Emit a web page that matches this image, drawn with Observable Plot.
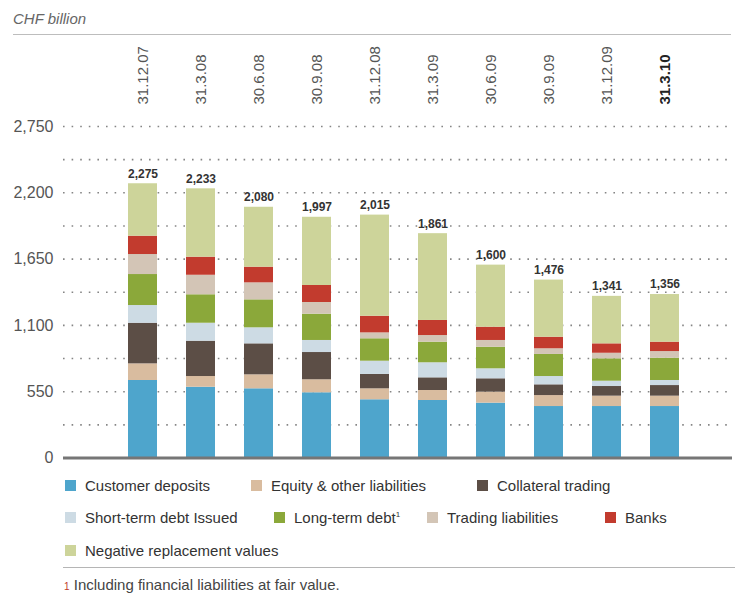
<!DOCTYPE html>
<html>
<head>
<meta charset="utf-8">
<script src="https://cdn.jsdelivr.net/npm/d3@7"></script>
<script src="https://cdn.jsdelivr.net/npm/@observablehq/plot@0.6"></script>
<style>
  body { margin: 0; background: #fff; font-family: "Liberation Sans", Arial, sans-serif; }
  #wrap { position: relative; width: 743px; height: 597px; overflow: hidden; }
  #title { position: absolute; left: 13px; top: 10px; font-size: 15px; font-style: italic; color: #666; line-height: 18px; }
  #topline { position: absolute; left: 13px; top: 34px; width: 718px; border-top: 1.5px solid #bdbdbd; }
  #chart { position: absolute; left: 0; top: 36px; }
  .leg { position: absolute; font-size: 15px; line-height: 18px; height: 18px; color: #333; white-space: nowrap; }
  .sw { position: absolute; width: 11px; height: 11px; }
  #sep { position: absolute; left: 63px; top: 567px; width: 672px; border-top: 1.5px solid #b5b5b5; }
  #foot { position: absolute; left: 64px; top: 576px; font-size: 15px; line-height: 18px; height: 18px; color: #444; }
  .sup { font-size: 8px; line-height: 0; position: relative; top: -6px; }
</style>
</head>
<body>
<div id="wrap">
  <div id="title">CHF billion</div>
  <div id="topline"></div>
  <div id="chart"></div>
  <div id="legend"></div>
  <div id="sep"></div>
  <div id="foot"><span style="color:#c0392b;font-size:10px">1</span> Including financial liabilities at fair value.</div>
</div>
<script>
const dates = ["31.12.07","31.3.08","30.6.08","30.9.08","31.12.08","31.3.09","30.6.09","30.9.09","31.12.09","31.3.10"];
const totals = [2275, 2233, 2080, 1997, 2015, 1861, 1600, 1476, 1341, 1356];

const customerDeposits   = [643, 587, 574, 541, 483, 477, 455, 427, 427, 427];
const equityOther        = [138,  89, 116, 108,  91,  83,  91,  91,  86,  86];
const collateralTrading  = [337, 293, 257, 226, 119, 105, 111,  89,  80,  88];
const shortTermDebt      = [147, 149, 133, 100, 110, 125,  83,  69,  44,  42];
const longTermDebt       = [257, 236, 232, 218, 186, 171, 179, 183, 186, 185];
const tradingLiabilities = [166, 162, 141,  97,  49,  55,  56,  47,  46,  55];
const banks              = [152, 150, 130, 141, 138, 125, 110,  96,  78,  78];
const negReplacement     = [435, 567, 497, 566, 839, 720, 515, 474, 394, 395];

const seriesNames = ["Customer deposits","Equity & other liabilities","Collateral trading","Short-term debt Issued","Long-term debt","Trading liabilities","Banks","Negative replacement values"];
const seriesValues = [customerDeposits, equityOther, collateralTrading, shortTermDebt, longTermDebt, tradingLiabilities, banks, negReplacement];
const seriesColors = ["#4ea5cc","#d9bc9f","#5c4e46","#cddbe4","#8ba83a","#d3c5b6","#c23b2e","#cdd49a"];

const yTicks = [0, 550, 1100, 1650, 2200, 2750];
const gridLines = [275, 550, 825, 1100, 1375, 1650, 1925, 2200, 2475, 2750];

const rows = [];
dates.forEach((d, i) => {
  seriesNames.forEach((s, k) => rows.push({date: d, series: s, value: seriesValues[k][i]}));
});

const fmt = d3.format(",");

const chart = Plot.plot({
  width: 743,
  height: 432,
  marginTop: 90,
  marginBottom: 10.5,
  marginLeft: 63,
  marginRight: 11,
  style: {fontFamily: '"Liberation Sans", Arial, sans-serif', background: "transparent", overflow: "visible"},
  x: {type: "band", domain: dates, range: [111.8, 695.1], paddingInner: 0.5, paddingOuter: 0.25, axis: null},
  y: {domain: [0, 2750], axis: null},
  color: {domain: seriesNames, range: seriesColors},
  marks: [
    Plot.ruleY(gridLines, {stroke: "#858585", strokeWidth: 1.6, strokeDasharray: "1.6,7"}),
    Plot.barY(rows, {x: "date", y: "value", fill: "series"}),
    Plot.ruleY([0], {stroke: "#767676", strokeWidth: 3}),
    Plot.axisY(yTicks, {tickSize: 0, tickPadding: 10, tickFormat: fmt, fontSize: 16, fill: "#555", label: null}),
    Plot.axisX(dates.slice(0, 9), {anchor: "top", tickSize: 0, tickPadding: 22, tickRotate: -90, fontSize: 15, fill: "#555", label: null}),
    Plot.axisX([dates[9]], {anchor: "top", tickSize: 0, tickPadding: 22, tickRotate: -90, fontSize: 15, fontWeight: "bold", fill: "#222", label: null}),
    Plot.text(totals, {x: (d, i) => dates[i], y: d => d, text: d => fmt(d), dy: -10, fontSize: 12, fontWeight: "bold", fill: "#333"})
  ]
});
document.getElementById("chart").appendChild(chart);

// legend
const legendPos = [
  [65, 486], [251, 486], [477, 486],
  [65, 518], [274, 518], [427, 518], [605, 518],
  [65, 551]
];
const legend = document.getElementById("legend");
seriesNames.forEach((s, k) => {
  const [x, y] = legendPos[k];
  const sw = document.createElement("div");
  sw.className = "sw";
  sw.style.left = x + "px";
  sw.style.top = (y - 6) + "px";
  sw.style.background = seriesColors[k];
  legend.appendChild(sw);
  const t = document.createElement("div");
  t.className = "leg";
  t.style.left = (x + 20) + "px";
  t.style.top = (y - 9) + "px";
  t.innerHTML = s === "Long-term debt" ? 'Long-term debt<span class="sup">1</span>' : s.replace("&", "&amp;");
  legend.appendChild(t);
});
</script>
</body>
</html>
